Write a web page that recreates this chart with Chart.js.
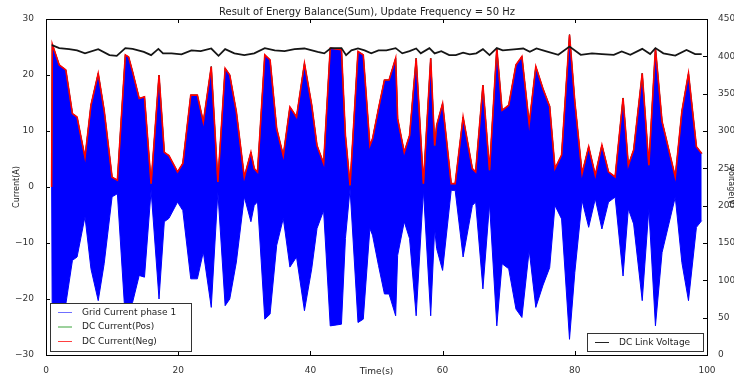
<!DOCTYPE html>
<html>
<head>
<meta charset="utf-8">
<script src="https://cdn.jsdelivr.net/npm/chart.js@4.4.1/dist/chart.umd.min.js"></script>
<style>
  html, body { margin: 0; padding: 0; background: #fff; }
  #wrap { width: 734px; height: 381px; position: relative; }
</style>
</head>
<body>
<div id="wrap"><canvas id="chart"></canvas></div>
<script>
// Envelope of the grid current (peak value, A)
const timeSec = [0.85, 0.95, 2.0, 3.0, 4.0, 4.7, 5.9, 6.8, 7.9, 8.8, 10.0, 10.8, 12.0, 12.5, 13.1, 14.1, 14.9, 15.9,
  17.1, 17.9, 18.6, 19.9, 20.7, 21.9, 22.9, 23.8, 25.0, 26.0, 27.1, 27.8, 28.8, 30.0, 31.0, 31.5, 32.0, 33.1, 33.9,
  34.9, 35.9, 36.9, 37.9, 39.1, 40.2, 41.0, 42.0, 43.0, 44.7, 45.3, 46.0, 47.2, 48.0, 49.0, 49.4, 50.3, 51.2, 51.9,
  52.9, 53.2, 54.2, 55.0, 56.0, 57.1, 58.2, 58.8, 59.1, 60.0, 61.3, 61.9, 63.1, 64.5, 65.0, 66.1, 67.1, 68.2, 69.0,
  70.0, 71.1, 72.0, 73.1, 74.1, 75.2, 76.2, 77.0, 78.0, 79.2, 80.0, 81.1, 82.1, 83.1, 84.1, 85.1, 86.1, 87.3, 88.1,
  88.9, 90.2, 91.2, 92.2, 93.2, 95.2, 96.2, 97.2, 98.4, 99.2];
const gridPeak = [0, 25.5, 21.8, 20.9, 13.1, 12.5, 5.3, 14.6, 20.3, 13.7, 1.75, 1.2, 23.6, 23.2, 20.6, 15.8, 16.1, 0.6,
  20.0, 6.2, 5.6, 2.7, 4.2, 16.4, 16.4, 11.6, 21.5, 0.9, 21.2, 20.0, 13.4, 1.75, 6.2, 3.3, 2.65, 23.6, 22.7,
  10.4, 5.6, 14.3, 12.5, 22.1, 14.6, 7.4, 4.2, 24.8, 24.5, 9.2, 0.3, 24.2, 23.6, 7.4, 8.6, 14.0, 19.1, 19.1,
  23.0, 12.2, 6.2, 9.2, 23.0, 0.6, 23.0, 7.4, 11.0, 14.9, 0.6, 0.6, 12.5, 3.3, 2.7, 18.2, 3.0, 24.8, 13.7,
  14.6, 21.8, 23.3, 11.3, 21.5, 17.5, 14.4, 3.3, 5.7, 27.2, 15.3, 2.4, 7.2, 2.1, 7.5, 2.7, 1.8, 15.9, 3.9,
  6.6, 20.3, 3.9, 24.8, 11.7, 1.8, 13.5, 20.3, 7.2, 6.0];

// DC link voltage (V)
const voltTime = [0.9, 2, 3.5, 4.7, 5.9, 7.9, 9.6, 10.7, 12, 13.1, 14.8, 15.9, 17, 17.7, 19, 20.5, 22, 23.4, 25, 26.1,
  27.1, 28.5, 30, 31.5, 33.1, 34.6, 36.1, 37.6, 39.1, 41.1, 42.1, 43.1, 44.7, 45.4, 46.2, 47.2, 48.2, 49.2, 50.3,
  51.5, 52.9, 53.9, 55.0, 56.0, 56.7, 58, 58.8, 59.8, 61, 62, 63.1, 64.1, 65.1, 66.1, 67.1, 68.2, 69.1, 71.2, 72.2,
  73.2, 74.2, 75.7, 77.5, 79.2, 80.9, 82.6, 84.1, 85.9, 87.1, 88.4, 90.2, 91.4, 92.2, 93.4, 95.2, 96.9, 98.2, 99.2];
const voltValue = [415, 411, 409.6, 408, 404, 409.6, 401.6, 400.7, 411, 410, 406, 401.6, 410, 404, 404, 402.6, 408, 407,
  410.5, 400.7, 409.6, 404, 401.6, 404, 411, 408, 407, 409.6, 410.5, 406, 404, 411, 411, 401.6, 408, 410.5, 408,
  404, 408, 408, 411, 404, 407, 410.5, 404, 411, 404, 407, 401.6, 401.6, 405, 402.6, 404, 409.6, 401.6, 411, 408,
  409.6, 410.5, 406, 410.5, 406.5, 402, 413, 402, 404, 403, 402, 406.5, 402, 410, 403, 411, 404, 401, 408.6, 403, 403];

const xTicks = [0, 20, 40, 60, 80, 100];
const currentTicks = [-30, -20, -10, 0, 10, 20, 30];
const voltTicks = [0, 50, 100, 150, 200, 250, 300, 350, 400, 450];

const leftLegend = [
  { label: 'Grid Current phase 1', color: '#6f6fff' },
  { label: 'DC Current(Pos)', color: '#3aa33a' },
  { label: 'DC Current(Neg)', color: '#ff4040' }
];
const rightLegend = [{ label: 'DC Link Voltage', color: '#222' }];

const FONT = 'DejaVu Sans';
const upper = timeSec.map((t, i) => ({ x: t, y: gridPeak[i] }));
const lower = timeSec.map((t, i) => ({ x: t, y: -gridPeak[i] }));
const volt = voltTime.map((t, i) => ({ x: t, y: voltValue[i] }));

function fmt(v) {
    return String(v).replace('-', '\u2212');
}

// frame, inward ticks and the two legend boxes, matplotlib style
const framePlugin = {
    id: 'frame',
    afterDatasetsDraw(chart) {
        const { ctx, chartArea: a, scales } = chart;
        ctx.save();
        ctx.strokeStyle = '#000';
        ctx.lineWidth = 1;
        ctx.beginPath();
        xTicks.forEach(v => {
            const px = Math.round(scales.x.getPixelForValue(v)) + 0.5;
            ctx.moveTo(px, a.bottom); ctx.lineTo(px, a.bottom - 4);
            ctx.moveTo(px, a.top); ctx.lineTo(px, a.top + 4);
        });
        currentTicks.forEach(v => {
            const py = Math.round(scales.y.getPixelForValue(v)) + 0.5;
            ctx.moveTo(a.left, py); ctx.lineTo(a.left + 4, py);
        });
        voltTicks.forEach(v => {
            const py = Math.round(scales.y2.getPixelForValue(v)) + 0.5;
            ctx.moveTo(a.right, py); ctx.lineTo(a.right - 4, py);
        });
        ctx.stroke();
        ctx.strokeRect(Math.round(a.left) + 0.5, Math.round(a.top) + 0.5,
            Math.round(a.right - a.left), Math.round(a.bottom - a.top));
        ctx.restore();
    },
    afterDraw(chart) {
        const ctx = chart.ctx;
        const box = (x, y, w, h, items) => {
            ctx.save();
            ctx.fillStyle = '#fff';
            ctx.fillRect(x, y, w, h);
            ctx.strokeStyle = '#333';
            ctx.lineWidth = 1;
            ctx.strokeRect(x + 0.5, y + 0.5, w, h);
            ctx.font = '9px "' + FONT + '"';
            ctx.textBaseline = 'middle';
            items.forEach((it, i) => {
                const cy = y + 9.5 + i * 14.5;
                ctx.strokeStyle = it.color;
                ctx.beginPath();
                ctx.moveTo(x + 8, cy); ctx.lineTo(x + 22, cy);
                ctx.stroke();
                ctx.fillStyle = '#222';
                ctx.fillText(it.label, x + 32, cy);
            });
            ctx.restore();
        };
        box(50, 303, 141, 48, leftLegend);
        box(587, 333, 116, 18, rightLegend);
    }
};

new Chart(document.getElementById('chart'), {
    type: 'line',
    data: {
        datasets: [
            { label: 'DC Link Voltage', data: volt, yAxisID: 'y2', borderColor: '#151515', borderWidth: 1.8, pointRadius: 0, order: 0 },
            { label: 'DC Current(Neg)', data: upper, yAxisID: 'y', borderColor: '#ff0000', borderWidth: 1.6, pointRadius: 0, order: 1 },
            { label: 'DC Current(Pos)', data: upper, yAxisID: 'y', borderColor: '#00a000', borderWidth: 1, pointRadius: 0, order: 2 },
            { label: 'Grid Current phase 1', data: upper, yAxisID: 'y', borderColor: '#0000ff', backgroundColor: '#0000ff',
              borderWidth: 1, pointRadius: 0, fill: 4, order: 3 },
            { label: 'grid lower', data: lower, yAxisID: 'y', borderColor: '#0000ff', borderWidth: 1, pointRadius: 0, order: 4 }
        ]
    },
    options: {
        responsive: true,
        maintainAspectRatio: false,
        animation: false,
        layout: { padding: 0 },
        plugins: {
            legend: { display: false },
            tooltip: { enabled: false },
            title: {
                display: true,
                text: 'Result of Energy Balance(Sum), Update Frequency = 50 Hz',
                color: '#222',
                font: { family: FONT, size: 10, weight: 'normal' },
                padding: { top: 6, bottom: 1 }
            }
        },
        scales: {
            x: {
                type: 'linear', min: 0, max: 100,
                afterFit: s => { s.height = 26; },
                afterBuildTicks: s => { s.ticks = xTicks.map(v => ({ value: v })); },
                grid: { display: false },
                border: { display: false },
                ticks: { color: '#333', padding: 2, font: { family: FONT, size: 9 }, callback: fmt, maxRotation: 0 },
                title: { display: true, text: 'Time(s)', color: '#222', font: { family: FONT, size: 9 }, padding: { top: 0, bottom: 4 } }
            },
            y: {
                position: 'left', min: -30, max: 30,
                afterFit: s => { s.width = 46; },
                afterBuildTicks: s => { s.ticks = currentTicks.map(v => ({ value: v })); },
                grid: { display: false },
                border: { display: false },
                ticks: { color: '#333', padding: 4, font: { family: FONT, size: 9 }, callback: fmt },
                title: { display: true, text: 'Current(A)', color: '#222', font: { family: FONT, size: 8 }, padding: { top: 12, bottom: 0 } }
            },
            y2: {
                position: 'right', min: 0, max: 450,
                afterFit: s => { s.width = 27; },
                afterBuildTicks: s => { s.ticks = voltTicks.map(v => ({ value: v })); },
                grid: { display: false },
                border: { display: false },
                ticks: { color: '#333', padding: 3, font: { family: FONT, size: 9 }, callback: fmt },
                title: { display: true, text: 'Voltage(V)', color: '#222', font: { family: FONT, size: 8 }, padding: { top: -2, bottom: 0 } }
            }
        }
    },
    plugins: [framePlugin]
});
</script>
</body>
</html>
